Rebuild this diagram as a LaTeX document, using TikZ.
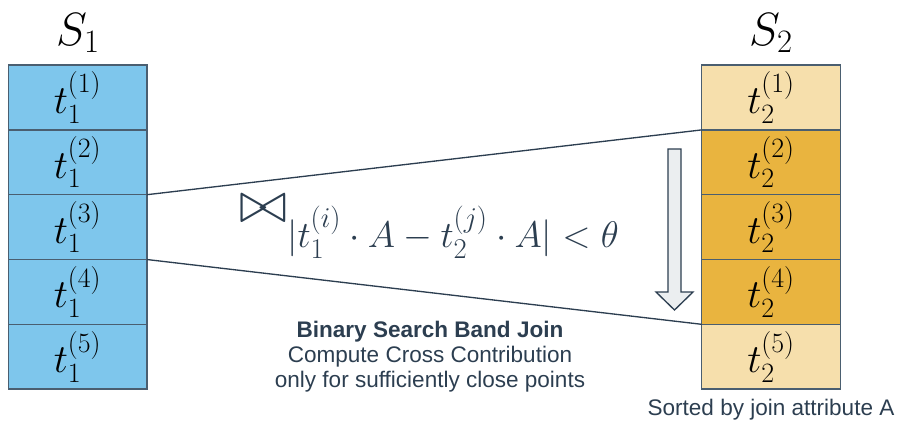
\RequirePackage{fix-cm}
\documentclass[tikz,border=0pt]{standalone}
\usepackage{fontspec}
\setsansfont{Liberation Sans}
\usepackage{amsmath}
\usetikzlibrary{positioning}
\DeclareMathSizes{27.8}{27.8}{21.5}{15.6}

\definecolor{slate}{HTML}{2C3E50}
\definecolor{cellline}{HTML}{4A5E70}
\definecolor{skyfill}{HTML}{7EC6EC}
\definecolor{sandfill}{HTML}{F6DFAC}
\definecolor{goldfill}{HTML}{E9B43F}
\definecolor{arrowfill}{HTML}{EBEEF0}

\begin{document}
\begin{tikzpicture}[
    x=0.75pt, y=-0.75pt,
    cell/.style={rectangle, draw=cellline, line width=1pt, outer sep=0pt, minimum width=104pt, minimum height=48.6pt, inner sep=0pt, font=\fontsize{30}{36}\selectfont},
    leftcell/.style={cell, fill=skyfill},
    lightcell/.style={cell, fill=sandfill},
    darkcell/.style={cell, fill=goldfill},
    setname/.style={font=\fontsize{35}{40}\selectfont},
    band/.style={draw=slate, line width=1pt},
    caption/.style={font=\sffamily\fontsize{16.9}{18.8}\selectfont, text=slate, align=center}
]
\useasboundingbox (0,0) rectangle (899,430);

% Relation S1
\node[setname] (s1) at (78,33) {$S_1$};
\node[leftcell] (a1) at (77.5,97.5) {$t_1^{(1)}$};
\node[leftcell, below=0pt of a1] (a2) {$t_1^{(2)}$};
\node[leftcell, below=0pt of a2] (a3) {$t_1^{(3)}$};
\node[leftcell, below=0pt of a3] (a4) {$t_1^{(4)}$};
\node[leftcell, below=0pt of a4] (a5) {$t_1^{(5)}$};

% Relation S2
\node[setname] (s2) at (771,33) {$S_2$};
\node[lightcell] (b1) at (771,97.5) {$t_2^{(1)}$};
\node[darkcell, below=0pt of b1] (b2) {$t_2^{(2)}$};
\node[darkcell, below=0pt of b2] (b3) {$t_2^{(3)}$};
\node[darkcell, below=0pt of b3] (b4) {$t_2^{(4)}$};
\node[lightcell, below=0pt of b4] (b5) {$t_2^{(5)}$};
\node[caption, below=4pt of b5] (sorted) {Sorted by join attribute A};

% Band
\draw[band] (a3.north east) -- (b2.north west);
\draw[band] (a4.north east) -- (b4.south west);

% Sort direction
\draw[draw=slate, line width=1pt, fill=arrowfill, line join=miter]
    (668,149) -- (681,149) -- (681,292) -- (693,292) -- (674.5,310)
    -- (656,292) -- (668,292) -- cycle;

% Join condition
\node[anchor=base west, text=slate, font=\fontsize{44}{48}\selectfont, inner sep=0pt] (joinsym) at (239,222) {$\bowtie$};
\node[anchor=base west, text=slate, font=\fontsize{27.8}{34}\selectfont, inner sep=0pt] (cond) at (287,247)
    {$|t_1^{(i)}\cdot A-t_2^{(j)}\cdot A|<\theta$};
\node[caption] (method) at (430,357) {\textbf{Binary Search Band Join}\\Compute Cross Contribution\\only for sufficiently close points};

\end{tikzpicture}
\end{document}
